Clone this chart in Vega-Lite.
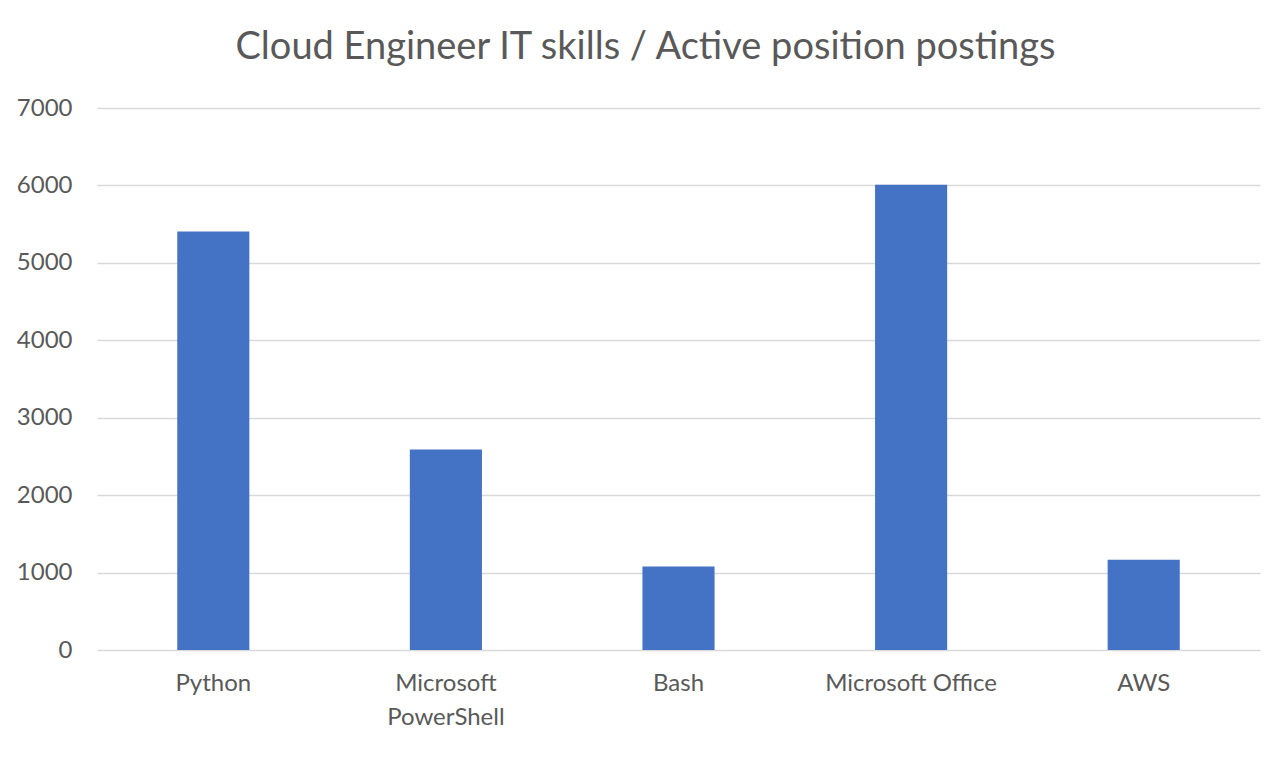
{
  "$schema": "https://vega.github.io/schema/vega-lite/v6.json",
  "autosize": {"type": "none"},
  "width": 1163,
  "height": 542,
  "padding": {"left": 97, "top": 108, "right": 28, "bottom": 107},
  "background": "white",
  "title": {
    "text": "Cloud Engineer IT skills / Active position postings",
    "font": "Lato",
    "fontSize": 38,
    "fontWeight": "normal",
    "color": "#595959",
    "anchor": "middle",
    "frame": "group",
    "dx": -33,
    "offset": 29
  },
  "data": {
    "values": [
      {"skill": "Python", "postings": 5405},
      {"skill": "Microsoft PowerShell", "postings": 2590},
      {"skill": "Bash", "postings": 1080},
      {"skill": "Microsoft Office", "postings": 6010},
      {"skill": "AWS", "postings": 1165}
    ]
  },
  "mark": {"type": "bar", "color": "#4472C4"},
  "encoding": {
    "x": {
      "field": "skill",
      "type": "nominal",
      "sort": null,
      "scale": {"paddingInner": 0.69, "paddingOuter": 0.345},
      "axis": {
        "title": null,
        "labelAngle": 0,
        "labelFont": "Lato",
        "labelFontSize": 24,
        "labelColor": "#595959",
        "labelPadding": 21,
        "labelLineHeight": 34,
        "labelExpr": "datum.label == 'Microsoft PowerShell' ? ['Microsoft', 'PowerShell'] : datum.label",
        "ticks": false,
        "domain": false,
        "grid": false
      }
    },
    "y": {
      "field": "postings",
      "type": "quantitative",
      "scale": {"domain": [0, 7000]},
      "axis": {
        "title": null,
        "values": [0, 1000, 2000, 3000, 4000, 5000, 6000, 7000],
        "format": "d",
        "labelFont": "Lato",
        "labelFontSize": 24,
        "labelColor": "#595959",
        "labelPadding": 25,
        "ticks": false,
        "domain": false,
        "grid": true,
        "gridColor": "#d9d9d9",
        "gridWidth": 1.5
      }
    }
  },
  "config": {"view": {"stroke": null}}
}
